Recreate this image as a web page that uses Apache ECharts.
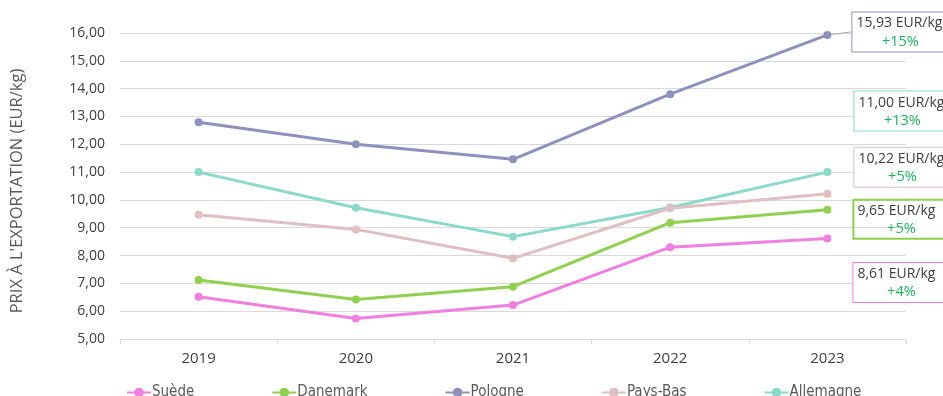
<!DOCTYPE html>
<html>
<head>
<meta charset="utf-8">
<script src="https://cdn.jsdelivr.net/npm/echarts@6/dist/echarts.min.js"></script>
<style>html,body{margin:0;padding:0;background:#fff}#c{width:943px;height:396px}</style>
</head>
<body>
<div id="c"></div>
<script>
const categories = ['2019', '2020', '2021', '2022', '2023'];
const suede     = [6.52, 5.74, 6.22, 8.30, 8.61];
const danemark  = [7.12, 6.42, 6.88, 9.18, 9.65];
const pologne   = [12.79, 12.00, 11.46, 13.80, 15.93];
const paysBas   = [9.47, 8.94, 7.90, 9.70, 10.22];
const allemagne = [11.00, 9.72, 8.68, 9.73, 11.00];
const seriesNames = ['Suède', 'Danemark', 'Pologne', 'Pays-Bas', 'Allemagne'];
const growth = ['+4%', '+5%', '+15%', '+5%', '+13%'];
const yTicks = [5, 16, 1];

const colors = ['#f07fe0', '#8fd14f', '#8e91bd', '#e0bfc2', '#8bd9cb'];
const dataSets = [suede, danemark, pologne, paysBas, allemagne];
const labelShift = [[22, 44], [22, 9.5], [21, -3], [23, -26.5], [23, -61]];
const FONT = '"Open Sans", "Noto Sans", sans-serif';

function fmt(v) { return v.toFixed(2).replace('.', ','); }

const series = dataSets.map((d, i) => {
  const data = d.map((v, j) => {
    if (j !== d.length - 1) return v;
    return {
      value: v,
      label: {
        show: true,
        position: 'right',
        distance: 0,
        align: 'left',
        verticalAlign: 'middle',
        formatter: fmt(v) + ' EUR/kg\n{g|' + growth[i] + '}',
        color: '#404040',
        fontFamily: FONT,
        fontSize: 14,
        lineHeight: 18,
        borderColor: colors[i],
        borderWidth: 1,
        backgroundColor: i === 1 ? 'transparent' : '#fff',
        padding: [2, 12, 1, 4],
        width: 88,
        rich: { g: { color: '#1db35a', fontFamily: FONT, fontSize: 14.5, lineHeight: 18, align: 'center', width: 88 } }
      },
      labelLine: i === 2 ? { show: true, lineStyle: { color: '#a6a6a6', width: 1 } } : { show: false }
    };
  });
  return {
    name: seriesNames[i],
    type: 'line',
    data: data,
    symbol: 'circle',
    symbolSize: 8,
    z: 10 - i,
    lineStyle: { color: colors[i], width: 3 },
    itemStyle: { color: colors[i] },
    emphasis: { disabled: true },
    labelLayout: function (p) {
      return { dx: labelShift[i][0], dy: labelShift[i][1], hideOverlap: false, moveOverlap: null };
    }
  };
});

const chart = echarts.init(document.getElementById('c'), null, { renderer: 'canvas' });
chart.setOption({
  animation: false,
  color: colors,
  grid: { left: 120, right: 37, top: 33, bottom: 57, containLabel: false },
  legend: {
    data: seriesNames,
    left: 121,
    top: 380,
    itemWidth: 24,
    itemHeight: 12,
    itemGap: 77,
    textStyle: { color: '#595959', fontFamily: '"DejaVu Sans Condensed", "Liberation Sans Narrow", sans-serif', fontSize: 15, padding: [0, 0, 0, -4] }
  },
  xAxis: {
    type: 'category',
    data: categories,
    boundaryGap: true,
    axisLine: { show: true, lineStyle: { color: '#d9d9d9', width: 1 } },
    axisTick: { show: true, length: 5, lineStyle: { color: '#d9d9d9' } },
    axisLabel: { color: '#404040', fontFamily: FONT, fontSize: 15, margin: 12 }
  },
  yAxis: {
    type: 'value',
    min: yTicks[0],
    max: yTicks[1],
    interval: yTicks[2],
    name: "PRIX À L'EXPORTATION (EUR/kg)",
    nameLocation: 'middle',
    nameRotate: 90,
    nameGap: 94,
    nameTextStyle: { color: '#595959', fontFamily: FONT, fontSize: 16.5, padding: [0, 10, 0, 0] },
    axisLine: { show: false },
    axisTick: { show: false },
    splitLine: { show: true, lineStyle: { color: '#d9d9d9', width: 1 } },
    axisLabel: { color: '#404040', fontFamily: FONT, fontSize: 14, margin: 15, formatter: v => fmt(v) }
  },
  series: series
});
</script>
</body>
</html>
